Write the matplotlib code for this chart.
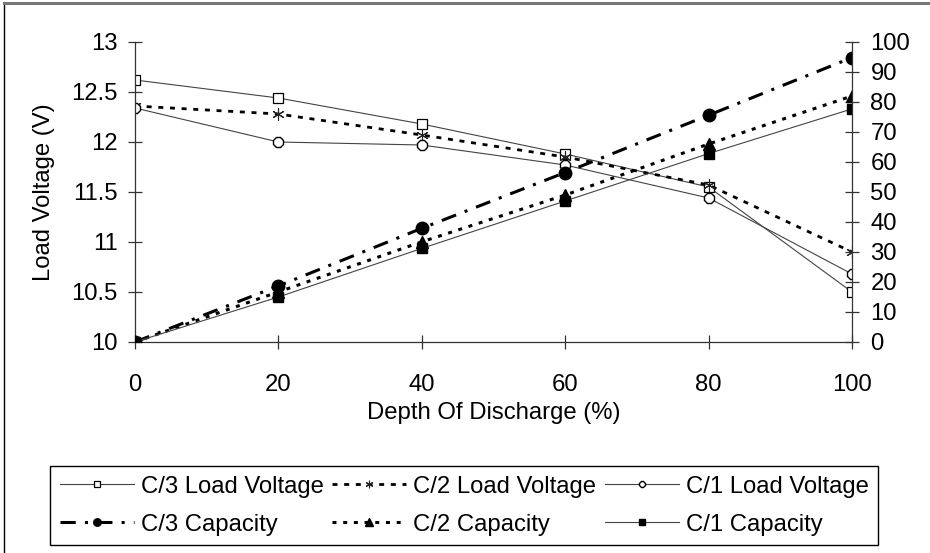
import matplotlib
matplotlib.use("Agg")
import matplotlib.pyplot as plt
from matplotlib.lines import Line2D

# data
depth = [0, 20, 40, 60, 80, 100]
c3_voltage = [12.62, 12.44, 12.18, 11.88, 11.55, 10.50]
c2_voltage = [12.36, 12.28, 12.07, 11.85, 11.57, 10.90]
c1_voltage = [12.34, 12.00, 11.97, 11.77, 11.44, 10.68]
c3_capacity = [0, 18.7, 37.9, 56.5, 75.6, 94.8]
c2_capacity = [0, 16.7, 33.4, 49.0, 66.0, 82.0]
c1_capacity = [0, 15.0, 31.2, 47.0, 62.8, 77.7]

voltage_ticks = [10, 10.5, 11, 11.5, 12, 12.5, 13]
voltage_labels = ["10", "10.5", "11", "11.5", "12", "12.5", "13"]
capacity_ticks = list(range(0, 101, 10))
depth_ticks = [0, 20, 40, 60, 80, 100]

plt.rcParams['font.family'] = ['Liberation Sans', 'DejaVu Sans']
plt.rcParams['font.size'] = 17.2

fig = plt.figure(figsize=(9.3, 5.53), dpi=100)
ax = fig.add_axes([135 / 930, 1 - 342 / 553, (852 - 135) / 930, 300 / 553])
ax2 = ax.twinx()

thin = dict(color='#444444', lw=0.8)

# load voltage (left axis)
l1, = ax.plot(depth, c3_voltage, marker='s', ms=6.5, mfc='white', mec='black',
              mew=0.9, label='C/3 Load Voltage', **thin)
l2, = ax.plot(depth, c2_voltage, marker=(6, 2, 0), ms=9, mec='#222222', mew=0.8,
              color='black', lw=2, ls=(0, (1.8, 2.4)), label='C/2 Load Voltage')
l3, = ax.plot(depth, c1_voltage, marker='8', ms=7.5, mfc='white', mec='black',
              mew=1.0, label='C/1 Load Voltage', **thin)

# capacity (right axis)
l4, = ax2.plot(depth, c3_capacity, marker='o', ms=9, color='black', lw=2.2,
               ls=(0, (5, 3, 1, 3)), label='C/3 Capacity')
l5, = ax2.plot(depth, c2_capacity, marker='^', ms=8.5, color='black', lw=2.2,
               ls=(0, (1.3, 2.2)), label='C/2 Capacity')
l6, = ax2.plot(depth, c1_capacity, marker='s', ms=7.5, mfc='black', mec='black',
               label='C/1 Capacity', **thin)

ax.set_xlim(0, 100)
ax.set_ylim(10, 13)
ax2.set_ylim(0, 100)
ax.set_xticks(depth_ticks)
ax.set_yticks(voltage_ticks)
ax.set_yticklabels(voltage_labels)
ax2.set_yticks(capacity_ticks)

for a in (ax, ax2):
    a.spines['top'].set_visible(False)
    for side in ('left', 'right', 'bottom'):
        a.spines[side].set_color('#333333')
        a.spines[side].set_linewidth(0.9)
    a.set_facecolor('none')
ax2.spines['left'].set_visible(False)
ax2.spines['bottom'].set_visible(False)
ax.spines['right'].set_visible(False)

ax.tick_params(axis='y', direction='inout', length=10.5, width=0.9, pad=7, color='#333333')
ax.tick_params(axis='x', direction='inout', length=10.5, width=0.9, pad=18, color='#333333')
ax2.tick_params(axis='y', direction='inout', length=10.5, width=0.9, pad=8, color='#333333')

ax.set_xlabel('Depth Of Discharge (%)', labelpad=4)
ax.set_ylabel('Load Voltage (V)', labelpad=12)

leg = fig.legend(handles=[l1, l4, l2, l5, l3, l6], ncol=3, loc='upper left',
                 bbox_to_anchor=(50 / 930, 1 - 466 / 553), borderaxespad=0,
                 frameon=True, fancybox=False, shadow=False, framealpha=1,
                 handlelength=3.1, handletextpad=0.3, columnspacing=0.35,
                 borderpad=0.4, labelspacing=0.68, markerscale=0.6)
leg.get_frame().set_edgecolor('black')
leg.get_frame().set_linewidth(1.0)

# outer frame of the original picture
fig.add_artist(Line2D([4 / 930, 4 / 930], [0, 1 - 3 / 553], transform=fig.transFigure,
                      color='black', lw=1.0))
fig.add_artist(Line2D([4 / 930, 1], [1 - 3 / 553, 1 - 3 / 553], transform=fig.transFigure,
                      color='#777777', lw=2.2))

fig.savefig('out.png', dpi=100)
